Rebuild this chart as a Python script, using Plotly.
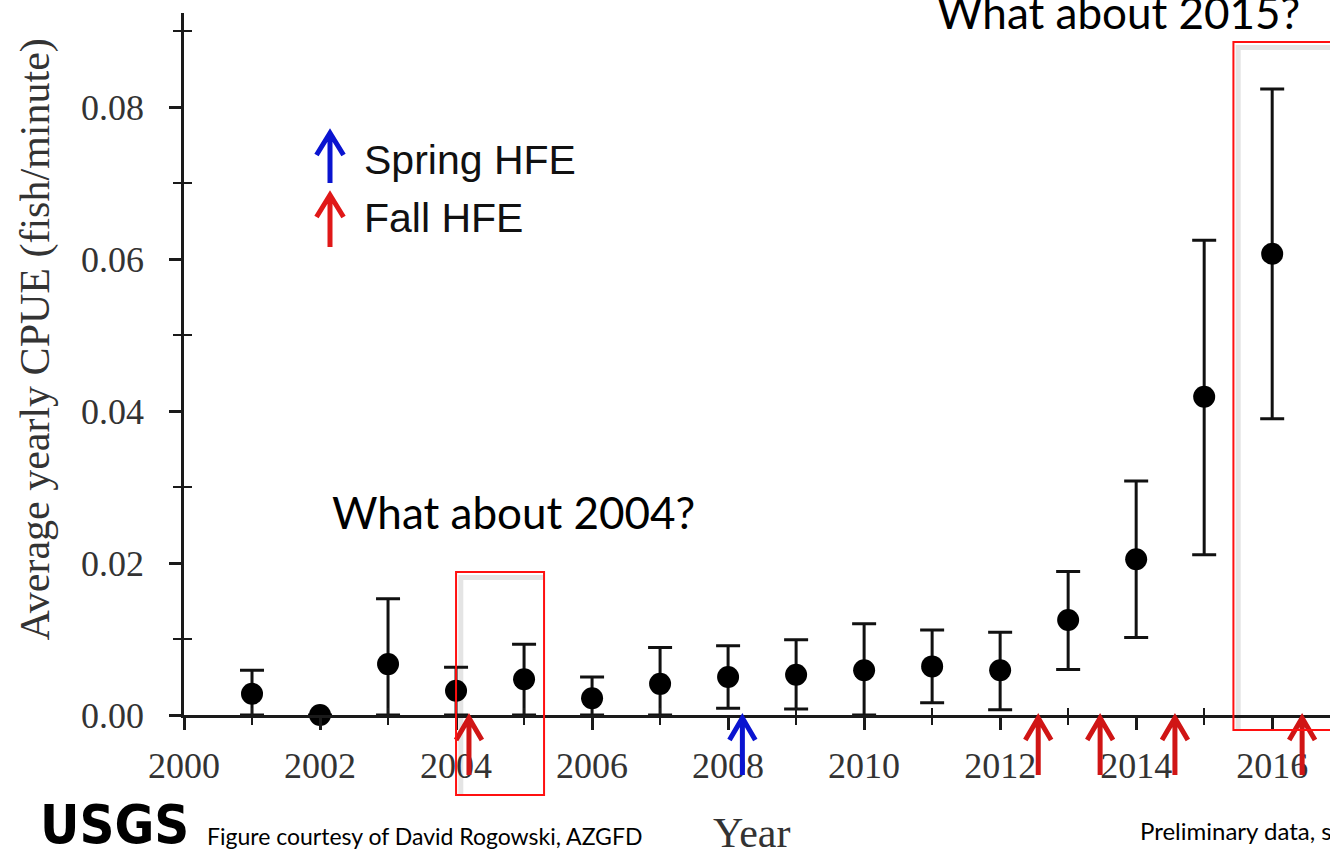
import plotly.graph_objects as go

# ---- data ----
years = [2001, 2002, 2003, 2004, 2005, 2006, 2007, 2008,
         2009, 2010, 2011, 2012, 2013, 2014, 2015, 2016]
cpue = [0.0028, 0.0000, 0.0067, 0.0032, 0.0047, 0.0022, 0.0041, 0.0050,
        0.0053, 0.0059, 0.0064, 0.0059, 0.0125, 0.0205, 0.0419, 0.0607]
upper = [0.0059, 0.0000, 0.0153, 0.0063, 0.0093, 0.0050, 0.0089, 0.0091,
         0.0099, 0.0120, 0.0112, 0.0109, 0.0189, 0.0308, 0.0625, 0.0824]
lower = [0.0000, 0.0000, 0.0000, 0.0000, 0.0000, 0.0000, 0.0000, 0.0009,
         0.0008, 0.0000, 0.0016, 0.0007, 0.0060, 0.0102, 0.0211, 0.0390]

spring_hfe = [2008.21]
fall_hfe = [2004.19, 2012.56, 2013.47, 2014.57, 2016.44]

x_ticks = [2000, 2002, 2004, 2006, 2008, 2010, 2012, 2014, 2016]
x_tick_labels = [str(v) for v in x_ticks]
x_minor = [2001, 2003, 2005, 2007, 2009, 2011, 2013, 2015]
y_ticks = [0.00, 0.02, 0.04, 0.06, 0.08]
y_tick_labels = ["0.00", "0.02", "0.04", "0.06", "0.08"]
y_minor = [0.01, 0.03, 0.05, 0.07, 0.09]

err_plus = [u - c for u, c in zip(upper, cpue)]
err_minus = [c - l for c, l in zip(cpue, lower)]

X_RANGE = [2000, 2016.85]
Y_RANGE = [0, 0.0924]

AX = "#1a1a1a"
SERIF = "Liberation Serif, Times New Roman, serif"
TICKFONT = dict(family=SERIF, size=36, color="#333333")
SANS = "Lato, Liberation Sans, sans-serif"
ARIAL = "Liberation Sans, Arial, sans-serif"
RED = "#d01515"
BLUE = "#0a14d0"

fig = go.Figure()

fig.add_trace(go.Scatter(
    x=years, y=cpue, mode="markers",
    marker=dict(color="black", size=22),
    error_y=dict(type="data", symmetric=False, array=err_plus, arrayminus=err_minus,
                 color="#111111", thickness=3, width=12),
    cliponaxis=False, showlegend=False, hoverinfo="x+y",
))

# dummy trace to activate overlay axes (crossing minor ticks)
fig.add_trace(go.Scatter(x=[None], y=[None], xaxis="x2", yaxis="y2",
                         showlegend=False, hoverinfo="skip"))

fig.update_layout(
    width=1330, height=858,
    margin=dict(l=184, r=0, t=13, b=143),
    paper_bgcolor="white", plot_bgcolor="white",
    xaxis=dict(range=X_RANGE, tickvals=x_ticks, ticktext=x_tick_labels,
               ticks="outside", ticklen=12, tickwidth=2.5, tickcolor=AX,
               minor=dict(tickvals=x_minor, ticks="outside", ticklen=7, tickwidth=2, tickcolor=AX),
               showline=True, linecolor=AX, linewidth=3, showgrid=False, zeroline=False,
               tickfont=TICKFONT, ticklabelstandoff=5),
    yaxis=dict(range=Y_RANGE, tickvals=y_ticks, ticktext=y_tick_labels,
               ticks="outside", ticklen=12, tickwidth=2.5, tickcolor=AX,
               minor=dict(tickvals=y_minor, ticks="outside", ticklen=8, tickwidth=2, tickcolor=AX),
               showline=True, linecolor=AX, linewidth=2.5, showgrid=False, zeroline=False,
               tickfont=TICKFONT, ticklabelstandoff=18),
    xaxis2=dict(range=X_RANGE, overlaying="x", anchor="y2", tickvals=x_minor,
                ticks="inside", ticklen=7, tickwidth=2, tickcolor=AX,
                showticklabels=False, showline=False, showgrid=False, zeroline=False),
    yaxis2=dict(range=Y_RANGE, overlaying="y", anchor="x2", side="left", tickvals=y_minor,
                ticks="inside", ticklen=8, tickwidth=2, tickcolor=AX,
                showticklabels=False, showline=False, showgrid=False, zeroline=False),
)


def arrow_path(xc, hw, y_tip, y_wing, y_bot):
    return (f"M {xc},{y_bot} L {xc},{y_tip} "
            f"M {xc - hw},{y_wing} L {xc},{y_tip} L {xc + hw},{y_wing}")


# HFE arrows below the x axis (x in data years, y in paper units)
for xs, col in ((spring_hfe, BLUE), (fall_hfe, RED)):
    for xv in xs:
        fig.add_shape(type="path", xref="x", yref="paper",
                      path=arrow_path(xv, 0.19, -0.0043, -0.0356, -0.0855),
                      line=dict(color=col, width=5), layer="above")

# legend arrows
fig.add_shape(type="path", xref="paper", yref="paper",
              path=arrow_path(0.1274, 0.0118, 0.829, 0.7977, 0.7578),
              line=dict(color=BLUE, width=5), layer="above")
fig.add_shape(type="path", xref="paper", yref="paper",
              path=arrow_path(0.1274, 0.0118, 0.7407, 0.7094, 0.6667),
              line=dict(color="#e01818", width=5), layer="above")

annotations = []

# legend labels
annotations += [
    dict(x=0.1553, y=0.7906, xref="paper", yref="paper", text="Spring HFE", showarrow=False,
         xanchor="left", yanchor="middle", font=dict(family=ARIAL, size=41, color="#111111")),
    dict(x=0.1553, y=0.708, xref="paper", yref="paper", text="Fall HFE", showarrow=False,
         xanchor="left", yanchor="middle", font=dict(family=ARIAL, size=41, color="#111111")),
]

# callouts
annotations += [
    dict(x=0.1274, y=0.289, xref="paper", yref="paper", text="What about 2004?", showarrow=False,
         xanchor="left", yanchor="middle", font=dict(family=SANS, size=44, color="black")),
    dict(x=0.6553, y=1.0, xref="paper", yref="paper", text="What about 2015?", showarrow=False,
         xanchor="left", yanchor="middle", yshift=1, font=dict(family=SANS, size=44, color="black")),
]

# axis titles
annotations += [
    dict(x=0.4956, y=-0.168, xref="paper", yref="paper", text="Year", showarrow=False,
         xanchor="center", yanchor="middle", font=dict(family=SERIF, size=42, color="#333333")),
    dict(x=-0.130, y=0.535, xref="paper", yref="paper", text="Average yearly CPUE (fish/minute)",
         showarrow=False, textangle=-90, xanchor="center", yanchor="middle",
         font=dict(family=SERIF, size=42, color="#333333")),
]

# footer
annotations += [
    dict(x=-0.1274, y=-0.156, xref="paper", yref="paper", text="<b>USGS</b>", showarrow=False,
         xanchor="left", yanchor="middle",
         font=dict(family="DejaVu Sans Condensed, Liberation Sans, sans-serif", size=54, color="black")),
    dict(x=(205 - 184) / 1146, y=-0.172, xref="paper", yref="paper",
         text="Figure courtesy of David Rogowski, AZGFD", showarrow=False,
         xanchor="left", yanchor="middle", font=dict(family=SANS, size=23, color="black")),
    dict(x=0.8325, y=-0.164, xref="paper", yref="paper",
         text="Preliminary data, subject to change", showarrow=False,
         xanchor="left", yanchor="middle", font=dict(family=SANS, size=24, color="black")),
]

fig.update_layout(annotations=annotations)

# red highlight boxes (with a faint slide shadow)
for x0, x1, yb, yt in ((2004.0, 2005.294, (715 - 795) / 702, (715 - 572) / 702),
                       (2015.43, 2017.5, (715 - 730) / 702, (715 - 42) / 702)):
    fig.add_shape(type="path", xref="x", yref="paper",
                  path=f"M {x0 + 0.07},{yb} L {x0 + 0.07},{yt - 0.008} L {x1},{yt - 0.008}",
                  line=dict(color="#e4e4e4", width=5), layer="below")
    fig.add_shape(type="rect", xref="x", yref="paper", x0=x0, x1=x1, y0=yb, y1=yt,
                  line=dict(color="#ff1010", width=2), fillcolor="rgba(0,0,0,0)", layer="above")

fig.write_html("out.html")
